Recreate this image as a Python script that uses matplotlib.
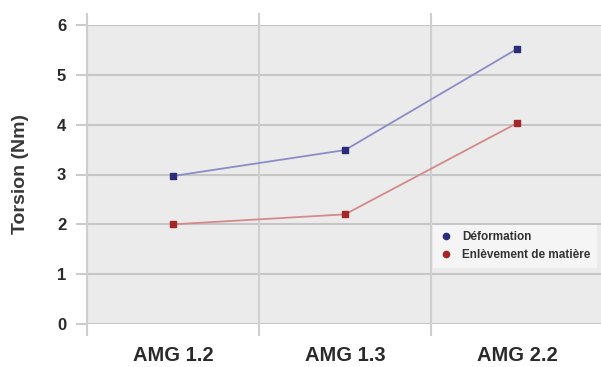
import matplotlib
matplotlib.use('Agg')
import matplotlib.pyplot as plt
import numpy as np

# values
categories = ['AMG 1.2', 'AMG 1.3', 'AMG 2.2']
deformation = [2.97, 3.49, 5.52]
enlevement = [2.0, 2.2, 4.03]
yticks = [0, 1, 2, 3, 4, 5, 6]

plt.rcParams['font.family'] = ['Liberation Sans', 'DejaVu Sans']

fig = plt.figure(figsize=(6.01, 3.67), dpi=100)
# plot area: x 87..603 px, y 25..324 px
ax = fig.add_axes([87 / 601, 43 / 367, 516 / 601, 299 / 367])
ax.set_facecolor('#ebebeb')

x = np.arange(len(categories))
ax.plot(x, deformation, color='#8c8cc8', lw=1.3, marker='s', ms=4.5,
        mfc='#2b2b7a', mec='#2b2b7a', label='Déformation', zorder=3)
ax.plot(x, enlevement, color='#d48a88', lw=1.3, marker='s', ms=4.5,
        mfc='#a42626', mec='#a42626', label='Enlèvement de matière', zorder=3)

ax.set_xlim(-0.5, 2.5)
ax.set_ylim(0, 6)
ax.set_yticks(yticks)
ax.set_xticks(x)
ax.set_xticklabels(categories, fontsize=14.5, fontweight='bold', color='#2a2a2a')
for lab in ax.get_yticklabels():
    lab.set_fontweight('bold')
    lab.set_fontsize(12)
    lab.set_color('#2a2a2a')
ax.tick_params(axis='x', which='major', length=0, pad=16)
ax.tick_params(axis='y', length=8, color='#cccccc', width=1.5, pad=7)

ax.grid(axis='y', which='major', color='#c6c6c6', lw=1.5)
ax.set_axisbelow(True)
for s in ax.spines.values():
    s.set_visible(False)
# vertical separators, running a little past the plot area
ax.vlines([-0.5, 0.5, 1.5, 2.5], -0.25, 6.25, colors='#cfcfcf', lw=1.5,
          clip_on=False, zorder=1)

ax.set_ylabel('Torsion (Nm)', fontsize=14, fontweight='bold', color='#383838', labelpad=20)

h1 = plt.Line2D([], [], ls='none', marker='o', ms=4.5, mfc='#2b2b7a', mec='#2b2b7a')
h2 = plt.Line2D([], [], ls='none', marker='o', ms=4.5, mfc='#a42626', mec='#a42626')
leg = fig.legend([h1, h2], ['Déformation', 'Enlèvement de matière'],
                 loc='upper left', bbox_to_anchor=(433 / 601, 1 - 225 / 367),
                 bbox_transform=fig.transFigure,
                 prop={'weight': 'bold', 'size': 8.5}, frameon=True,
                 handlelength=1.1, handletextpad=0.8, borderpad=0.55,
                 labelspacing=0.5, borderaxespad=0, fancybox=False)
leg.get_frame().set_facecolor('#f5f5f5')
leg.get_frame().set_edgecolor('none')
leg.get_frame().set_alpha(1)
for t in leg.get_texts():
    t.set_color('#333333')

fig.savefig('out.png', dpi=100)
